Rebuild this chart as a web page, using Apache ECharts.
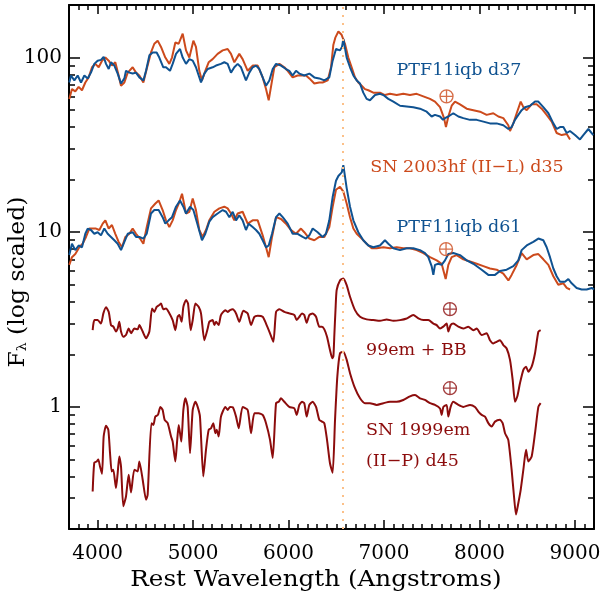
<!DOCTYPE html>
<html>
<head>
<meta charset="utf-8">
<script src="https://cdn.jsdelivr.net/npm/echarts@6/dist/echarts.min.js"></script>
<style>html,body{margin:0;padding:0;background:#fff}#c{width:604px;height:595px}</style>
</head>
<body>
<div id="c"></div>
<script>
// ---- data (wavelength in Angstrom, relative flux, log scaled) ----
const HALPHA = 6563;
const xMajorTicks = [4000, 5000, 6000, 7000, 8000, 9000];
const yMajorTicks = [1, 10, 100];
const yMinorTicks = [0.2,0.3,0.4,0.5,0.6,0.7,0.8,0.9,2,3,4,5,6,7,8,9,20,30,40,50,60,70,80,90,200];

const ptf37 = [[3703,72],[3721,79],[3756,74],[3791,79],[3826,72],[3861,79],[3896,76],[3930,82],[3965,92],[4000,96],[4035,97],[4063,101],[4088,92],[4116,86],[4140,94],[4175,90],[4210,81],[4245,71],[4280,76],[4297,84],[4332,82],[4367,81],[4402,82],[4437,77],[4479,74],[4507,84],[4542,103],[4577,107],[4618,107],[4646,100],[4688,88],[4716,88],[4758,84],[4786,92],[4821,105],[4863,112],[4891,100],[4926,92],[4961,98],[4996,96],[5030,88],[5083,72],[5118,81],[5153,86],[5205,88],[5240,90],[5292,92],[5327,94],[5362,92],[5397,82],[5432,88],[5467,92],[5502,88],[5554,74],[5589,82],[5624,88],[5659,90],[5694,86],[5729,77],[5764,69],[5799,74],[5834,86],[5869,92],[5921,90],[5973,86],[6008,84],[6043,79],[6078,84],[6113,81],[6165,79],[6218,81],[6270,77],[6322,76],[6375,74],[6427,77],[6462,96],[6497,112],[6539,110],[6560,115],[6574,128],[6609,100],[6644,88],[6679,79],[6714,74],[6749,71],[6783,63],[6818,58],[6853,57],[6906,61],[6958,62],[6993,61],[7045,58],[7098,56],[7168,53],[7237,52.5],[7307,52],[7377,51],[7447,49],[7499,46],[7534,47],[7587,46],[7618,44],[7639,45],[7674,46],[7726,48],[7779,46],[7831,45],[7901,44],[7971,44],[8041,43],[8110,42],[8180,42],[8250,41],[8303,39],[8337,40],[8372,44],[8407,47],[8442,50],[8477,52],[8530,53],[8582,56],[8617,56],[8669,52],[8722,48],[8774,42],[8809,39],[8844,40],[8879,40],[8914,37],[8948,38],[9001,36],[9053,34],[9088,36],[9141,39],[9193,36]];

const hfTop = [[3703,58],[3731,66],[3766,64],[3801,68],[3836,65],[3871,72],[3906,77],[3941,88],[3976,92],[4011,88],[4046,96],[4081,100],[4116,96],[4150,90],[4185,94],[4220,79],[4245,69],[4280,72],[4315,82],[4367,88],[4402,82],[4437,79],[4479,72],[4514,86],[4559,107],[4594,120],[4629,125],[4664,115],[4709,100],[4751,92],[4779,100],[4814,122],[4849,120],[4891,137],[4926,110],[4961,100],[5003,125],[5030,115],[5065,84],[5093,74],[5128,84],[5163,94],[5205,98],[5257,105],[5310,110],[5362,112],[5397,105],[5432,94],[5484,105],[5519,98],[5572,84],[5624,90],[5677,90],[5729,77],[5764,66],[5792,57],[5816,68],[5851,88],[5904,92],[5956,88],[5991,84],[6043,77],[6095,79],[6148,79],[6183,79],[6218,76],[6270,71],[6322,72],[6357,72],[6410,74],[6445,88],[6469,118],[6490,130],[6522,141],[6556,135],[6591,120],[6626,100],[6661,88],[6696,77],[6731,72],[6766,69],[6801,66],[6836,65],[6888,63],[6958,63],[7010,61],[7063,62],[7133,61],[7202,62],[7272,61],[7342,62],[7412,60],[7482,58],[7534,56],[7587,52],[7629,45],[7649,40],[7674,46],[7709,53],[7744,56],[7796,54],[7866,51],[7936,50],[8006,49],[8075,47],[8145,48],[8198,46],[8250,45],[8302,41],[8320,38],[8355,42],[8390,48],[8432,56],[8460,52],[8495,50],[8547,54],[8599,54],[8652,51],[8704,47],[8757,43],[8809,37],[8861,36],[8914,36.5],[8949,34]];

const ptf61 = [[3703,7.4],[3731,8.6],[3766,7.9],[3801,8.4],[3836,8.2],[3871,9.8],[3896,10.5],[3930,10.3],[3965,9.8],[4000,10.0],[4035,9.6],[4070,10.5],[4105,9.8],[4140,9.4],[4175,9.0],[4210,8.6],[4245,7.9],[4280,8.8],[4315,9.8],[4367,10.0],[4402,9.4],[4437,9.4],[4479,9.2],[4514,9.8],[4559,12.8],[4594,13.4],[4639,13.4],[4681,12.2],[4709,11.2],[4744,11.7],[4779,12.2],[4821,14.0],[4863,15.2],[4898,14.0],[4926,12.8],[4968,14.0],[5003,13.4],[5048,11.0],[5093,9.0],[5128,9.8],[5170,11.5],[5205,12.2],[5257,12.8],[5310,13.4],[5345,13.1],[5380,12.2],[5415,13.1],[5450,11.7],[5484,12.5],[5519,11.7],[5554,10.3],[5582,11.2],[5624,10.7],[5659,10.3],[5694,9.8],[5729,9.0],[5764,8.2],[5792,8.4],[5827,9.8],[5869,12.2],[5904,12.8],[5939,12.2],[5991,11.2],[6043,9.8],[6095,9.8],[6148,9.4],[6183,9.2],[6218,9.6],[6253,10.5],[6305,10.0],[6357,9.4],[6392,9.8],[6427,11.7],[6462,15.9],[6497,19.7],[6522,21],[6557,22],[6574,24.2],[6609,17.9],[6644,14.0],[6679,11.7],[6731,10.0],[6783,9.0],[6836,8.4],[6888,8.2],[6958,8.4],[7010,9.0],[7045,8.6],[7098,8.1],[7168,7.9],[7237,8.1],[7307,8.1],[7377,7.9],[7430,7.6],[7464,7.2],[7499,6.4],[7517,5.7],[7534,6.5],[7569,6.6],[7604,6.5],[7639,6.9],[7674,7.5],[7726,7.6],[7796,7.4],[7866,6.9],[7936,6.6],[8023,6.1],[8093,5.7],[8163,5.7],[8215,6.0],[8285,6.1],[8355,6.4],[8407,6.9],[8442,7.9],[8495,8.4],[8564,8.8],[8617,9.2],[8669,9.0],[8704,8.2],[8739,7.2],[8774,6.2],[8809,5.6],[8844,5.2],[8896,5.2],[8931,5.4],[8966,5.1],[9018,4.8],[9071,4.7],[9123,4.7],[9176,4.8],[9200,4.7]];

const hfMid = [[3703,6.5],[3731,7.2],[3766,7.5],[3808,8.2],[3843,8.6],[3878,9.4],[3913,10.5],[3948,10.5],[3983,10.5],[4018,10.3],[4053,11.2],[4081,11.7],[4116,10.5],[4150,11.0],[4185,9.8],[4220,8.8],[4255,8.2],[4290,9.4],[4332,9.8],[4367,10.5],[4402,9.8],[4444,9.2],[4479,8.6],[4514,10.7],[4559,13.7],[4605,14.6],[4639,15.2],[4681,13.4],[4716,11.7],[4751,10.7],[4786,11.7],[4821,13.4],[4856,14.9],[4884,16.6],[4926,12.8],[4961,13.1],[4996,15.6],[5030,13.4],[5065,10.3],[5100,9.4],[5135,10.3],[5170,11.7],[5223,13.1],[5275,13.7],[5327,14.0],[5362,13.7],[5397,12.8],[5432,11.7],[5467,12.8],[5519,13.1],[5572,11.2],[5624,11.7],[5677,11.7],[5729,9.6],[5764,8.2],[5792,7.2],[5827,9.4],[5869,12.2],[5921,11.9],[5973,11.2],[6026,10.3],[6078,9.8],[6130,10.5],[6165,10.0],[6218,9.2],[6270,9.0],[6322,9.4],[6375,9.4],[6427,10.7],[6462,14.0],[6497,17.5],[6539,18.2],[6574,17.1],[6609,14.6],[6644,12.2],[6679,10.5],[6714,9.8],[6766,9.2],[6818,8.6],[6871,8.1],[6923,8.1],[6993,8.2],[7063,8.1],[7133,8.2],[7202,8.1],[7272,8.1],[7342,7.9],[7412,7.6],[7482,7.2],[7552,6.9],[7604,6.6],[7646,5.4],[7674,6.5],[7709,7.2],[7761,7.4],[7831,7.0],[7901,6.8],[7971,6.6],[8041,6.4],[8110,6.2],[8180,6.1],[8250,5.8],[8303,5.3],[8337,5.7],[8390,6.5],[8442,7.6],[8495,7.0],[8564,7.4],[8617,7.5],[8669,7.0],[8722,6.5],[8774,5.6],[8826,5.0],[8879,5.1],[8914,4.8],[8949,4.7]];

const em99bb = [[3948,2.75],[3965,3.14],[4000,3.14],[4035,3.0],[4060,3.43],[4088,3.72],[4116,3.5],[4140,2.94],[4165,2.88],[4192,2.7],[4210,2.81],[4227,3.07],[4245,2.7],[4269,2.52],[4297,2.58],[4325,2.81],[4350,2.64],[4384,2.81],[4419,2.78],[4437,2.94],[4472,2.7],[4507,2.47],[4542,2.7],[4570,3.66],[4594,3.5],[4618,3.74],[4646,3.83],[4664,3.91],[4688,3.62],[4716,3.66],[4744,3.5],[4786,3.14],[4814,2.75],[4838,3.28],[4856,3.36],[4880,3.07],[4898,3.74],[4926,4.09],[4947,3.91],[4975,2.75],[4996,3.14],[5024,3.91],[5058,3.74],[5083,3.43],[5118,2.41],[5153,2.81],[5170,3.07],[5205,3.14],[5223,2.94],[5240,3.07],[5268,2.94],[5292,3.36],[5338,3.58],[5362,3.5],[5387,3.58],[5415,3.62],[5450,3.43],[5484,3.07],[5526,3.55],[5572,3.43],[5607,2.94],[5642,3.28],[5677,3.33],[5729,3.28],[5764,3.0],[5806,2.64],[5841,2.36],[5869,3.5],[5904,3.62],[5956,3.5],[6008,3.43],[6061,3.36],[6085,3.14],[6113,3.28],[6141,3.43],[6165,3.36],[6190,3.03],[6218,3.36],[6253,3.43],[6288,3.28],[6322,2.88],[6350,2.88],[6375,2.78],[6403,2.52],[6434,2.12],[6458,1.9],[6470,1.95],[6480,2.6],[6492,3.6],[6504,4.66],[6539,5.3],[6574,5.44],[6609,4.98],[6644,4.27],[6696,3.58],[6749,3.28],[6818,3.17],[6888,3.14],[6958,3.11],[7028,3.17],[7098,3.11],[7168,3.14],[7237,3.21],[7307,3.36],[7360,3.21],[7412,3.14],[7464,3.14],[7517,3.0],[7552,2.94],[7587,2.81],[7621,2.88],[7656,3.0],[7674,2.7],[7698,2.94],[7726,3.0],[7779,2.88],[7831,2.81],[7883,2.88],[7936,2.75],[7971,2.81],[8023,2.58],[8075,2.64],[8110,2.41],[8145,2.31],[8180,2.36],[8215,2.41],[8250,2.26],[8285,2.16],[8320,1.86],[8348,1.43],[8372,1.07],[8397,1.15],[8425,1.37],[8460,1.63],[8488,1.70],[8512,1.59],[8547,1.70],[8582,2.03],[8617,2.69],[8641,2.75]];

const em99 = [[3948,0.328],[3965,0.48],[3990,0.487],[4007,0.50],[4025,0.456],[4046,0.414],[4063,0.677],[4088,0.779],[4112,0.739],[4130,0.543],[4147,0.427],[4164,0.437],[4192,0.343],[4210,0.418],[4227,0.52],[4245,0.456],[4269,0.27],[4297,0.307],[4325,0.409],[4350,0.324],[4384,0.437],[4419,0.427],[4437,0.487],[4472,0.383],[4507,0.294],[4524,0.314],[4563,0.807],[4584,0.789],[4604,0.88],[4632,0.9],[4657,1.0],[4681,0.961],[4702,0.843],[4734,0.807],[4769,0.677],[4786,0.633],[4814,0.487],[4831,0.62],[4849,0.789],[4863,0.707],[4877,0.633],[4898,0.961],[4919,1.12],[4943,1.0],[4968,0.543],[4996,0.961],[5024,1.07],[5048,1.0],[5072,0.88],[5107,0.4],[5135,0.568],[5163,0.739],[5188,0.755],[5212,0.807],[5233,0.707],[5247,0.739],[5268,0.677],[5292,0.88],[5338,1.0],[5362,0.961],[5387,1.0],[5415,0.996],[5450,0.88],[5478,0.755],[5519,1.0],[5572,0.961],[5607,0.707],[5642,0.92],[5687,0.92],[5729,0.9],[5764,0.807],[5806,0.648],[5834,0.51],[5869,1.05],[5897,1.07],[5921,1.12],[5956,1.07],[6008,1.0],[6061,0.98],[6085,0.9],[6113,1.027],[6141,1.07],[6165,1.05],[6190,0.88],[6218,1.027],[6253,1.07],[6288,1.0],[6322,0.843],[6350,0.824],[6375,0.807],[6403,0.648],[6434,0.476],[6462,0.42],[6487,0.843],[6511,1.49],[6539,2.03],[6574,2.07],[6609,1.86],[6644,1.56],[6696,1.28],[6749,1.12],[6801,1.05],[6853,1.05],[6923,1.027],[6993,1.05],[7063,1.07],[7133,1.07],[7202,1.096],[7272,1.15],[7325,1.17],[7377,1.12],[7429,1.096],[7482,1.05],[7534,1.027],[7587,0.98],[7604,0.9],[7622,1.0],[7656,1.027],[7674,0.88],[7698,1.0],[7726,1.07],[7779,1.027],[7831,1.0],[7901,1.027],[7953,1.0],[7988,0.94],[8023,0.9],[8058,0.88],[8093,0.807],[8128,0.772],[8163,0.824],[8215,0.843],[8243,0.807],[8268,0.707],[8302,0.648],[8337,0.437],[8362,0.307],[8383,0.242],[8407,0.281],[8432,0.335],[8460,0.437],[8488,0.568],[8512,0.487],[8547,0.52],[8582,0.707],[8617,1.0],[8641,1.05]];

// telluric (earth) markers
const tellOrange = [[7655, 60], [7650, 8.0]];
const tellRed = [[7691, 3.63], [7691, 1.28]];

// ---- style ----
const BLUE = '#0f5291', ORANGE = '#cc4a1c', DRED = '#8c0c0c', HA = '#fcc088';
const FONT = 'DejaVu Serif';
const XMIN = 3700, XMAX = 9200, YMIN = 0.2, YMAX = 200;
const xMinorTicks = [];
for (let v = XMIN; v <= XMAX; v += 100) if (v % 1000 !== 0) xMinorTicks.push(v);

function xAx(pos, ticks, len, line, labels) {
  return {
    type: 'value', min: XMIN, max: XMAX, position: pos, offset: 0,
    splitLine: {show: false},
    axisLine: {show: line, onZero: false, lineStyle: {color: '#000', width: 2}},
    axisTick: {show: true, inside: true, length: len, customValues: ticks, lineStyle: {color: '#000', width: 1.5}},
    axisLabel: labels ? {show: true, customValues: xMajorTicks, margin: 15, color: '#000', fontFamily: FONT, fontSize: 20, formatter: v => String(v)} : {show: false}
  };
}
function yAx(pos, ticks, len, line, labels) {
  return {
    type: 'log', logBase: 10, min: YMIN, max: YMAX, position: pos, offset: 0,
    splitLine: {show: false},
    axisLine: {show: line, onZero: false, lineStyle: {color: '#000', width: 2}},
    axisTick: {show: true, inside: true, length: len, customValues: ticks, lineStyle: {color: '#000', width: 1.5}},
    axisLabel: labels ? {show: true, customValues: yMajorTicks, margin: 7, color: '#000', fontFamily: FONT, fontSize: 20, formatter: v => String(v)} : {show: false}
  };
}

const crossSym = 'path://M0,-10A10,10 0 1,1 0,10A10,10 0 1,1 0,-10ZM-10,0L10,0M0,-10L0,10';

function spec(data, color, smooth) {
  return {type: 'line', data: data, showSymbol: false, symbol: 'none', silent: true, smooth: smooth || false,
    lineStyle: {color: color, width: 2}, itemStyle: {color: color}, z: 3};
}

const chart = echarts.init(document.getElementById('c'), null, {renderer: 'canvas'});
const hfTopSeries = spec(hfTop, ORANGE);
hfTopSeries.markLine = {symbol: 'none', silent: true, label: {show: false},
  lineStyle: {color: HA, type: [2, 6], width: 2}, data: [{xAxis: HALPHA}]};

const LBL = '17.5px "DejaVu Serif"';
chart.setOption({
  animation: false,
  backgroundColor: '#fff',
  grid: {left: 69, right: 10, top: 5, bottom: 66, containLabel: false},
  xAxis: [
    xAx('bottom', xMajorTicks, 9, true, true),
    xAx('bottom', xMinorTicks, 5, false, false),
    xAx('top', xMajorTicks, 9, true, false),
    xAx('top', xMinorTicks, 5, false, false)
  ],
  yAxis: [
    yAx('left', yMajorTicks, 11, true, true),
    yAx('left', yMinorTicks, 6, false, false),
    yAx('right', yMajorTicks, 11, true, false),
    yAx('right', yMinorTicks, 6, false, false)
  ],
  series: [
    hfTopSeries,
    spec(ptf37, BLUE),
    spec(hfMid, ORANGE),
    spec(ptf61, BLUE),
    spec(em99bb, DRED, 0.2),
    spec(em99, DRED, 0.2),
    {type: 'scatter', data: tellOrange, symbol: crossSym, symbolSize: 13, silent: true,
      itemStyle: {color: 'rgba(0,0,0,0)', borderColor: ORANGE, borderWidth: 1.3}, z: 4},
    {type: 'scatter', data: tellRed, symbol: crossSym, symbolSize: 13, silent: true,
      itemStyle: {color: 'rgba(0,0,0,0)', borderColor: DRED, borderWidth: 1.3}, z: 4}
  ],
  graphic: [
    {type: 'text', x: 459, y: 70, style: {text: 'PTF11iqb d37', fill: BLUE, font: LBL, textAlign: 'center', textVerticalAlign: 'middle'}},
    {type: 'text', x: 467, y: 167, style: {text: 'SN 2003hf (II\u2212L) d35', fill: ORANGE, font: LBL, textAlign: 'center', textVerticalAlign: 'middle'}},
    {type: 'text', x: 459, y: 227, style: {text: 'PTF11iqb d61', fill: BLUE, font: LBL, textAlign: 'center', textVerticalAlign: 'middle'}},
    {type: 'text', x: 366, y: 350, style: {text: '99em + BB', fill: DRED, font: LBL, textAlign: 'left', textVerticalAlign: 'middle'}},
    {type: 'text', x: 366, y: 430, style: {text: 'SN 1999em', fill: DRED, font: LBL, textAlign: 'left', textVerticalAlign: 'middle'}},
    {type: 'text', x: 366, y: 461, style: {text: '(II\u2212P) d45', fill: DRED, font: LBL, textAlign: 'left', textVerticalAlign: 'middle'}},
    {type: 'text', x: 316, y: 580, scaleX: 1.12, style: {text: 'Rest Wavelength (Angstroms)', fill: '#000', font: '22px "DejaVu Serif"', textAlign: 'center', textVerticalAlign: 'middle'}},
    {type: 'text', x: 18, y: 282, rotation: Math.PI / 2, scaleX: 1.07,
      style: {text: 'F{s|\u03bb} (log scaled)', fill: '#000', font: '22px "DejaVu Serif"', textAlign: 'center', textVerticalAlign: 'middle',
        rich: {s: {fontSize: 13, fontFamily: FONT, fill: '#000', verticalAlign: 'bottom', padding: [8, 0, 0, 0]}}}}
  ]
});
</script>
</body>
</html>
